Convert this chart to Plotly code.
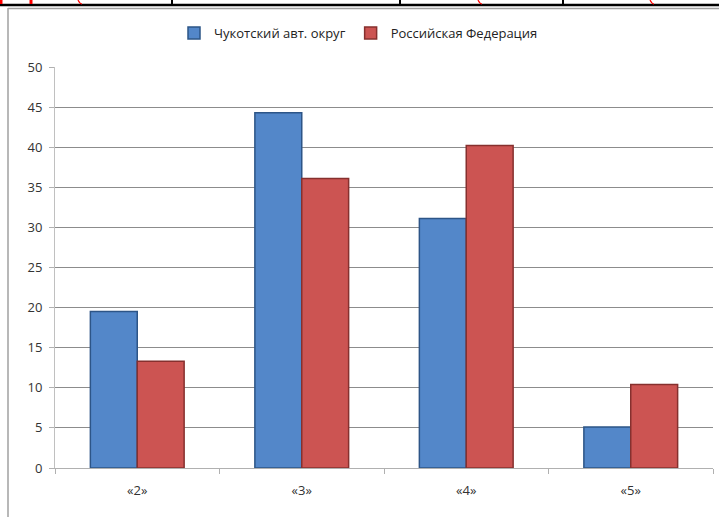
import plotly.graph_objects as go

categories = ["«2»", "«3»", "«4»", "«5»"]
chukotka = [19.5, 44.3, 31.1, 5.1]
russia = [13.3, 36.1, 40.2, 10.4]
series_names = ["Чукотский авт. округ", "Российская Федерация"]

W, H = 719, 517
L, R, T, B = 55, 6, 67, 49
PW, PH = W - L - R, H - T - B
FONT = "Open Sans"


def px_x(x):
    # page pixel -> paper x
    return (x - L) / PW


def px_y(y):
    # page pixel -> paper y
    return (H - B - y) / PH


fig = go.Figure()
fig.add_trace(go.Bar(
    x=categories, y=chukotka, name=series_names[0],
    marker=dict(color="#5387C9", line=dict(color="#2D5587", width=1.5)),
))
fig.add_trace(go.Bar(
    x=categories, y=russia, name=series_names[1],
    marker=dict(color="#CC5452", line=dict(color="#86302E", width=1.5)),
))

# pieces of the document table cut off above the chart
shapes = [
    dict(type="line", xref="paper", yref="paper", x0=px_x(0), x1=px_x(W),
         y0=px_y(5), y1=px_y(5), line=dict(color="black", width=2.5)),
    dict(type="line", xref="paper", yref="paper", x0=px_x(8), x1=px_x(W),
         y0=px_y(8.5), y1=px_y(8.5), line=dict(color="#a0a0a0", width=1.5)),
    dict(type="line", xref="paper", yref="paper", x0=px_x(8), x1=px_x(8),
         y0=px_y(H), y1=px_y(8), line=dict(color="#a0a0a0", width=1.5)),
]
for xp in [172, 400, 563]:
    shapes.append(dict(type="line", xref="paper", yref="paper",
                       x0=px_x(xp), x1=px_x(xp), y0=px_y(5), y1=px_y(0),
                       line=dict(color="black", width=2)))
for xp in [1, 31]:
    shapes.append(dict(type="line", xref="paper", yref="paper",
                       x0=px_x(xp), x1=px_x(xp), y0=px_y(4), y1=px_y(0),
                       line=dict(color="red", width=3)))
for xp in [80, 480, 652]:
    shapes.append(dict(type="path", xref="paper", yref="paper",
                       path=f"M {px_x(xp - 2)},{px_y(0)} Q {px_x(xp)},{px_y(4)} {px_x(xp + 2)},{px_y(4)}",
                       line=dict(color="red", width=1.2)))

fig.update_layout(
    width=W, height=H,
    margin=dict(l=L, r=R, t=T, b=B),
    paper_bgcolor="white", plot_bgcolor="white",
    font=dict(family=FONT, size=13, color="#333333"),
    barmode="group", bargap=0.43, bargroupgap=0,
    legend=dict(orientation="h", x=px_x(174), xanchor="left", y=px_y(33),
                yanchor="middle", font=dict(size=13, color="#222222"),
                itemwidth=30, traceorder="normal"),
    shapes=shapes,
    xaxis=dict(showline=True, linecolor="#b0b0b0", ticks="outside",
               tickson="boundaries", ticklen=5, tickcolor="#b0b0b0",
               showgrid=False, ticklabelstandoff=10,
               tickfont=dict(size=13, color="#333333")),
    yaxis=dict(range=[0, 50], dtick=5, showline=True, linecolor="#c0c0c0",
               ticks="outside", ticklen=5, tickcolor="#b0b0b0",
               gridcolor="#8c8c8c", gridwidth=1, ticklabelstandoff=4,
               tickfont=dict(size=13, color="#333333")),
)

fig.write_html("out.html", config={"displayModeBar": False},
               post_script="document.body.style.margin='0';")
